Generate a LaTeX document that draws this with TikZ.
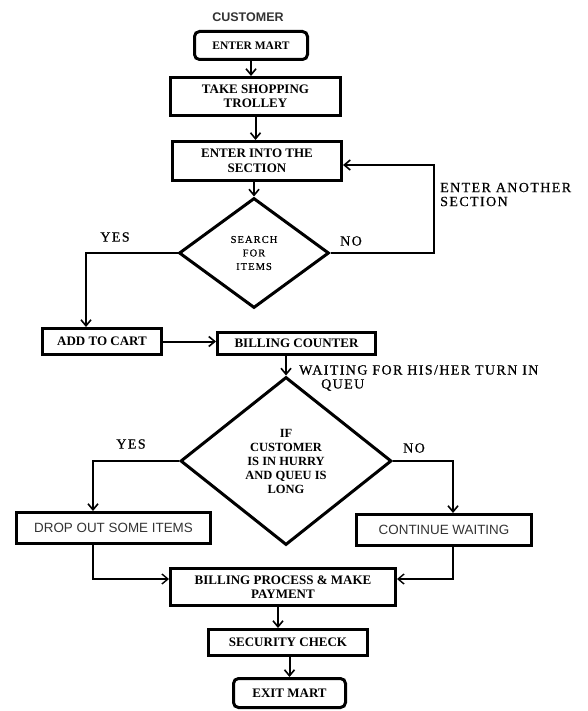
\documentclass[tikz,border=0pt]{standalone}
\usepackage{fontspec}
\setmainfont{Liberation Serif}
\newfontfamily\sansf{Liberation Sans}
\newfontfamily\spacedserif[LetterSpace=10,FakeBold=0.6]{Liberation Serif}
\newfontfamily\spacedsmall[LetterSpace=10,FakeBold=0.5]{Liberation Serif}
\usetikzlibrary{arrows.meta,shapes.geometric}
\begin{document}
\begin{tikzpicture}[x=1pt,y=-1pt,
  box/.style={draw,line width=3pt,inner sep=0pt,align=center,font=\fontsize{13}{14.5}\selectfont\bfseries},
  rbox/.style={box,rounded corners=5pt},
  sbox/.style={draw,line width=3pt,inner sep=0pt,align=center,font=\sansf\fontsize{13.4}{15}\selectfont,text=black!80},
  dia/.style={draw,diamond,line width=3pt,inner sep=0pt,align=center},
  arr/.style={line width=2pt,-{Straight Barb[length=6pt,width=10pt,line width=1.6pt]}},
  thinarr/.style={line width=1.5pt,-{Straight Barb[length=6pt,width=10pt,line width=1.4pt]}},
  lbl/.style={font=\spacedserif\fontsize{14}{14}\selectfont,inner sep=0pt,align=left}
]
\useasboundingbox (0,0) rectangle (587,711);

\node[font=\sansf\bfseries\fontsize{12.5}{14}\selectfont,text=black!80] (cust) at (248,17) {CUSTOMER};
\node[rbox,minimum width=113pt,minimum height=28pt,font=\fontsize{11.5}{12}\selectfont\bfseries] (enter) at (251,45.5) {ENTER MART};
\node[box,minimum width=170pt,minimum height=38pt] (trolley) at (255.5,96.5) {TAKE SHOPPING\\TROLLEY};
\node[box,minimum width=169pt,minimum height=39pt] (section) at (257,161) {ENTER INTO THE\\SECTION};
\node[dia,minimum width=150pt,minimum height=110pt,font=\spacedsmall\fontsize{10.5}{13.5}\selectfont] (search) at (254,253) {SEARCH\\FOR\\ITEMS};
\coordinate (loop) at (434,165);
\node[lbl,anchor=west] (another) at (440,194.5) {ENTER ANOTHER\\SECTION};
\node[lbl] (yes1) at (115,237) {YES};
\node[lbl] (no1) at (351,241) {NO};
\node[box,minimum width=119pt,minimum height=26pt] (add) at (102,341.5) {ADD TO CART};
\node[box,minimum width=158pt,minimum height=22pt] (billing) at (296.5,343.5) {BILLING COUNTER};
\node[lbl,anchor=west] (waiting) at (299,378) {WAITING FOR HIS/HER TURN IN\\\hspace*{22pt}QUEU};
\node[dia,minimum width=211pt,minimum height=168pt,font=\fontsize{12.5}{14}\selectfont\bfseries] (hurry) at (286,461) {IF\\CUSTOMER\\IS IN HURRY\\AND QUEU IS\\LONG};
\node[lbl] (yes2) at (131,444) {YES};
\node[lbl] (no2) at (414,448) {NO};
\node[sbox,minimum width=194pt,minimum height=31pt] (drop) at (113.5,528) {DROP OUT SOME ITEMS};
\node[sbox,minimum width=175pt,minimum height=31pt] (cont) at (444,530) {CONTINUE WAITING};
\node[box,minimum width=225pt,minimum height=37pt] (bp) at (283,587) {BILLING PROCESS \& MAKE\\PAYMENT};
\node[box,minimum width=159pt,minimum height=26pt] (sec) at (288,642.5) {SECURITY CHECK};
\node[rbox,minimum width=112pt,minimum height=29pt] (exit) at (289.5,693) {EXIT MART};

\draw[arr] (enter.south) -- (enter.south |- trolley.north);
\draw[arr] (trolley.south) -- (trolley.south |- section.north);
\draw[arr] (section.south -| search.north) -- (search.north);
\draw[arr] (search.east) -| (loop) -- (loop -| section.east);
\draw[arr] (search.west) -| ([xshift=-16pt]add.north);
\draw[arr] (add.east) -- (add.east -| billing.west);
\draw[arr] (billing.south -| hurry.north) -- (hurry.north);
\draw[arr] (hurry.west) -| ([xshift=-20.5pt]drop.north);
\draw[arr] (hurry.east) -| ([xshift=9pt]cont.north);
\draw[thinarr] ([xshift=-20.5pt]drop.south) |- ([yshift=8pt]bp.west);
\draw[thinarr] ([xshift=9pt]cont.south) |- ([yshift=8pt]bp.east);
\draw[arr] ([xshift=-5pt]bp.south) -- ([xshift=-5pt]bp.south |- sec.north);
\draw[arr] (sec.south -| exit.north) -- (exit.north);
\end{tikzpicture}
\end{document}
